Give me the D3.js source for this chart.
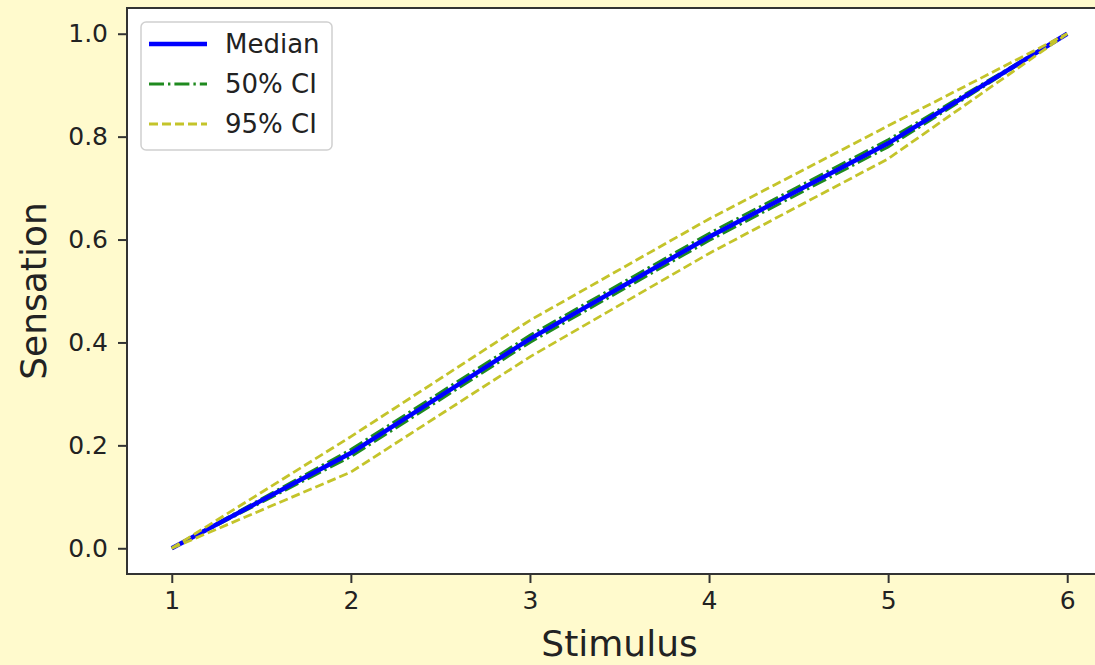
<!DOCTYPE html>
<html>
<head>
<meta charset="utf-8">
<script src="https://cdn.jsdelivr.net/npm/d3@7"></script>
<style>
  body { margin: 0; background: #fffacd; }
  svg { display: block; font-family: "DejaVu Sans", sans-serif; }
</style>
</head>
<body>
<div id="chart"></div>
<script>
// values
var stimulus = [1, 2, 3, 4, 5, 6];
var median   = [0, 0.185, 0.407, 0.605, 0.787, 1.0];
var ci50Low  = [0, 0.178, 0.400, 0.598, 0.780, 1.0];
var ci50High = [0, 0.192, 0.414, 0.612, 0.794, 1.0];
var ci95Low  = [0, 0.148, 0.372, 0.573, 0.757, 1.0];
var ci95High = [0, 0.217, 0.443, 0.640, 0.821, 1.0];
var yTicks = [0, 0.2, 0.4, 0.6, 0.8, 1.0];

var W = 1095, H = 665;
var plotLeft = 127, plotTop = 8, plotBottom = 574, plotRight = 1112;

var svg = d3.select("#chart").append("svg")
    .attr("width", W)
    .attr("height", H);

svg.append("rect").attr("width", W).attr("height", H).attr("fill", "#fffacd");

var x = d3.scaleLinear().domain([0.75, 6.25]).range([plotLeft, plotRight]);
var y = d3.scaleLinear().domain([-0.05, 1.05]).range([plotBottom, plotTop]);

// plot area
svg.append("rect")
    .attr("x", plotLeft).attr("y", plotTop)
    .attr("width", plotRight - plotLeft).attr("height", plotBottom - plotTop)
    .attr("fill", "#ffffff");

function series(vals) {
    return stimulus.map(function(s, i) { return [s, vals[i]]; });
}

var line = d3.line()
    .x(function(d) { return x(d[0]); })
    .y(function(d) { return y(d[1]); });

var g = svg.append("g");

[ci50Low, ci50High].forEach(function(v) {
    g.append("path").datum(series(v))
        .attr("d", line).attr("fill", "none")
        .attr("stroke", "#1f8a1f").attr("stroke-width", 2.8)
        .attr("stroke-dasharray", "15,4,2.4,4");
});

// median on top of the 50% band so the blue stays visible
g.append("path").datum(series(median))
    .attr("d", line).attr("fill", "none")
    .attr("stroke", "#0000ff").attr("stroke-width", 4.5);

[ci95Low, ci95High].forEach(function(v) {
    g.append("path").datum(series(v))
        .attr("d", line).attr("fill", "none")
        .attr("stroke", "#c4c42a").attr("stroke-width", 2.8)
        .attr("stroke-dasharray", "9,4");
});

// axes
var xAxis = d3.axisBottom(x).tickValues(stimulus).tickFormat(d3.format("d"))
    .tickSize(9).tickPadding(8);
var yAxis = d3.axisLeft(y).tickValues(yTicks).tickFormat(d3.format(".1f"))
    .tickSize(9).tickPadding(10);

var gx = svg.append("g").attr("transform", "translate(0," + plotBottom + ")").call(xAxis);
var gy = svg.append("g").attr("transform", "translate(" + plotLeft + ",0)").call(yAxis);
[gx, gy].forEach(function(a) {
    a.select(".domain").remove();
    a.selectAll("line").attr("stroke", "#333").attr("stroke-width", 2);
    a.selectAll("text").attr("fill", "#222").style("font-size", "25px")
        .style("font-family", "DejaVu Sans, sans-serif");
});

// spines
svg.append("rect")
    .attr("x", plotLeft).attr("y", plotTop)
    .attr("width", plotRight - plotLeft).attr("height", plotBottom - plotTop)
    .attr("fill", "none").attr("stroke", "#333").attr("stroke-width", 2);

svg.append("text")
    .attr("x", x(3.5)).attr("y", 656)
    .attr("text-anchor", "middle")
    .style("font-size", "36px").attr("fill", "#222")
    .text("Stimulus");

svg.append("text")
    .attr("transform", "translate(46," + y(0.5) + ") rotate(-90)")
    .attr("text-anchor", "middle")
    .style("font-size", "36px").attr("fill", "#222")
    .text("Sensation");

// legend
var legendItems = [
    {label: "Median", color: "#0000ff", width: 4.5, dash: null},
    {label: "50% CI", color: "#1f8a1f", width: 2.8, dash: "15,4,2.4,4"},
    {label: "95% CI", color: "#c4c42a", width: 2.8, dash: "9,4"}
];

var lg = svg.append("g").attr("transform", "translate(141,22)");
lg.append("rect")
    .attr("width", 191).attr("height", 128)
    .attr("rx", 5).attr("ry", 5)
    .attr("fill", "#ffffff").attr("fill-opacity", 0.85)
    .attr("stroke", "#d0d0d0").attr("stroke-width", 1.5);

var items = lg.selectAll(".item").data(legendItems).enter().append("g")
    .attr("transform", function(d, i) { return "translate(0," + (22 + i * 40) + ")"; });
items.append("line")
    .attr("x1", 8).attr("x2", 66)
    .attr("stroke", function(d) { return d.color; })
    .attr("stroke-width", function(d) { return d.width; })
    .attr("stroke-dasharray", function(d) { return d.dash; });
items.append("text")
    .attr("x", 84).attr("dy", "0.35em")
    .style("font-size", "26px").attr("fill", "#222")
    .text(function(d) { return d.label; });
</script>
</body>
</html>
